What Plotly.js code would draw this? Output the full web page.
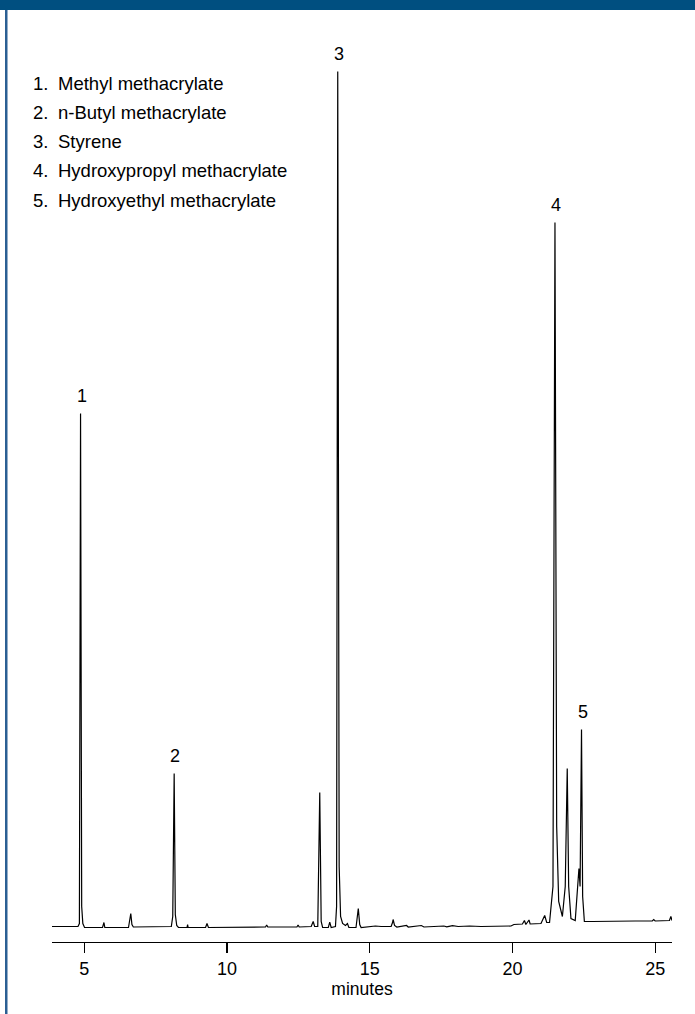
<!DOCTYPE html>
<html>
<head>
<meta charset="utf-8">
<script src="https://cdn.plot.ly/plotly-3.0.1.min.js"></script>
<style>
  html, body { margin: 0; padding: 0; background: #ffffff; }
  #chart { width: 695px; height: 1014px; }
</style>
</head>
<body>
<div id="chart"></div>
<script>
// Retention time (minutes) of each point of the trace
const times = [
  3.87, 4.78, 4.83, 4.87, 4.91, 4.95, 5.01, 5.64, 5.69, 5.72,
  6.55, 6.60, 6.63, 6.67, 6.72, 8.05, 8.10, 8.15, 8.19, 8.24,
  8.30, 8.60, 8.62, 8.64, 9.25, 9.30, 9.35, 11.35, 11.39, 11.43,
  12.45, 12.49, 12.53, 12.95, 13.02, 13.07, 13.18, 13.25, 13.30, 13.35,
  13.55, 13.60, 13.65, 13.80, 13.84, 13.88, 13.93, 13.98, 14.05, 14.15,
  14.22, 14.27, 14.52, 14.60, 14.65, 14.70, 15.00, 15.20, 15.40, 15.75,
  15.80, 15.82, 15.87, 15.95, 16.29, 16.35, 16.81, 16.90, 17.60, 17.70,
  17.90, 18.10, 18.50, 18.90, 19.95, 20.05, 20.35, 20.42, 20.47, 20.58,
  20.62, 21.00, 21.13, 21.20, 21.30, 21.42, 21.49, 21.55, 21.62, 21.75,
  21.85, 21.92, 21.97, 22.05, 22.20, 22.33, 22.37, 22.42, 22.46, 22.52,
  22.80, 23.50, 24.30, 24.90, 24.95, 25.00, 25.50, 25.55, 25.59
];
// Detector signal (arbitrary units) at each of those times
const signal = [
  0, 0, 3, 513, 20, 3, -1, -1, 4, -1,
  -1, 6, 13, 2, -0.5, 0, 10, 153, 12, 1,
  -1, -1, 2, -1, -1, 3, -1, -0.5, 1.5, -0.5,
  -0.5, 1.5, -0.5, 0, 5, 0, 0, 134, 5, -1,
  -1, 4.3, -1, 0, 20, 855, 60, 10, 3, 1,
  3, -1, -1, 18, 2, -1, -0.5, 0.5, 0, 0,
  4, 7, 1, -0.5, 1, -0.5, 1, -0.5, 0.5, -0.3,
  0.8, 0, 0.5, 0, 0.5, 2, 2.5, 6, 2, 6.5,
  2.5, 3, 11, 4, 4, 40, 704, 100, 25, 10,
  40, 158, 40, 8, 6, 58, 40, 197, 30, 5,
  5, 5.5, 5.5, 5.5, 7, 5.5, 6, 10, 6
];
// Numbered peaks
const peakNumbers = ["1", "2", "3", "4", "5"];
const peakTimes = [4.87, 8.15, 13.88, 21.49, 22.42];
const peakHeights = [513, 153, 855, 704, 197];
const compoundNames = [
  "Methyl methacrylate",
  "n-Butyl methacrylate",
  "Styrene",
  "Hydroxypropyl methacrylate",
  "Hydroxyethyl methacrylate"
];
const tickValues = [5, 10, 15, 20, 25];
const xAxisTitle = "minutes";

const FONT = "Liberation Sans, Arial, Helvetica, sans-serif";
const W = 695, H = 1014;
const M = { l: 52, r: 23, t: 40, b: 72 };
const plotW = W - M.l - M.r, plotH = H - M.t - M.b;
const px2paperX = px => (px - M.l) / plotW;
const px2paperY = py => (H - M.b - py) / plotH;

const annotations = [];
peakNumbers.forEach((lab, i) => {
  annotations.push({
    x: peakTimes[i], y: peakHeights[i], xref: 'x', yref: 'y',
    text: lab, showarrow: false, xanchor: 'center', yanchor: 'middle',
    yshift: 18, xshift: 1,
    font: { family: FONT, size: 18, color: '#000' }
  });
});
const legendTop = 83.3, legendStep = 29.2;
compoundNames.forEach((name, i) => {
  const yy = px2paperY(legendTop + i * legendStep);
  annotations.push({
    x: px2paperX(30.5), y: yy, xref: 'paper', yref: 'paper',
    text: peakNumbers[i] + '.', showarrow: false, xanchor: 'left', yanchor: 'middle',
    font: { family: FONT, size: 18.5, color: '#000' }
  });
  annotations.push({
    x: px2paperX(55.5), y: yy, xref: 'paper', yref: 'paper',
    text: name, showarrow: false, xanchor: 'left', yanchor: 'middle',
    font: { family: FONT, size: 18.5, color: '#000' }
  });
});

const shapes = [
  // header band
  { type: 'rect', xref: 'paper', yref: 'paper',
    x0: px2paperX(0), x1: px2paperX(W), y0: px2paperY(10), y1: px2paperY(0),
    fillcolor: '#004f80', line: { width: 0 }, layer: 'above' },
  // left border
  { type: 'rect', xref: 'paper', yref: 'paper',
    x0: px2paperX(5), x1: px2paperX(7.5), y0: px2paperY(H), y1: px2paperY(10),
    fillcolor: '#2b5f93', line: { width: 0 }, layer: 'above' }
];

const trace = {
  x: times, y: signal, type: 'scatter', mode: 'lines',
  line: { color: '#000', width: 1.2, shape: 'linear' },
  hoverinfo: 'x+y'
};

const layout = {
  width: W, height: H,
  margin: M,
  paper_bgcolor: '#ffffff', plot_bgcolor: '#ffffff',
  showlegend: false,
  xaxis: {
    range: [3.87, 25.59], showgrid: false, zeroline: false,
    showline: true, linecolor: '#000', linewidth: 1.3,
    ticks: 'outside', ticklen: 10, tickwidth: 1.3, tickcolor: '#000',
    tickvals: tickValues, ticktext: tickValues.map(String),
    tickfont: { family: FONT, size: 18, color: '#000' },
    title: { text: xAxisTitle, font: { family: FONT, size: 17.5, color: '#000' }, standoff: 3 },
    fixedrange: true
  },
  yaxis: {
    range: [-15.5, 886.5], visible: false, showgrid: false, zeroline: false, fixedrange: true
  },
  annotations: annotations,
  shapes: shapes
};

Plotly.newPlot('chart', [trace], layout, { displayModeBar: false, staticPlot: true });
</script>
</body>
</html>
